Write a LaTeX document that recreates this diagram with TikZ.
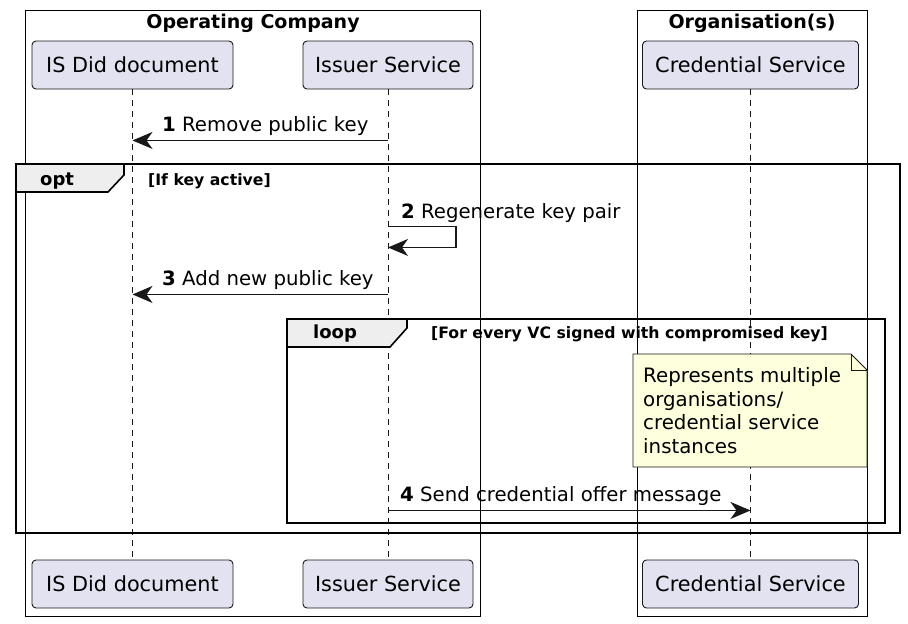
\documentclass[tikz,border=0pt]{standalone}
\usepackage{fontspec}
\setmainfont{DejaVu Sans}
\usetikzlibrary{arrows.meta,calc}
\definecolor{partfill}{HTML}{E2E2F0}
\definecolor{ink}{HTML}{181818}
\definecolor{notefill}{HTML}{FEFFDD}
\definecolor{tabfill}{HTML}{EEEEEE}
\tikzset{
  part/.style={draw=ink, fill=partfill, line width=0.9pt, rounded corners=4pt,
    minimum height=48pt, inner sep=0pt, font=\fontsize{20.8}{24}\selectfont},
  grp/.style={draw=black, line width=0.9pt},
  grptitle/.style={anchor=base, inner sep=0pt, font=\fontsize{19}{23}\selectfont\bfseries},
  life/.style={draw=ink, line width=0.9pt, dash pattern=on 6pt off 5pt},
  msg/.style={draw=ink, line width=1.4pt, -{Stealth[length=20pt,width=17pt,inset=6pt]}},
  msglabel/.style={anchor=base west, inner sep=0pt, font=\fontsize{19.7}{23}\selectfont},
  frame/.style={draw=black, line width=2.6pt},
  tab/.style={draw=black, fill=tabfill, line width=1.6pt},
  tablabel/.style={anchor=base west, inner sep=0pt, font=\fontsize{18}{22}\selectfont\bfseries},
  guard/.style={anchor=base west, inner sep=0pt, font=\fontsize{15.7}{18}\selectfont\bfseries},
  notebox/.style={draw=ink, fill=notefill, line width=0.9pt},
  notetext/.style={anchor=base west, inner sep=0pt, align=left, font=\fontsize{19.8}{23.5}\selectfont}
}
\begin{document}
\begin{tikzpicture}[x=1pt,y=-1pt]
\useasboundingbox (0,0) rectangle (908,624);
% groups
\draw[grp] (25,10) rectangle (480,616);
\draw[grp] (637,10) rectangle (867,616);
\node[grptitle] (gtitle1) at (253,28) {Operating Company};
\node[grptitle] (gtitle2) at (752,28) {Organisation(s)};
% participants
\node[part, minimum width=201pt] (didT) at (132.5,65) {IS Did document};
\node[part, minimum width=170pt] (issT) at (388,65) {Issuer Service};
\node[part, minimum width=216pt] (credT) at (750.5,65) {Credential Service};
\node[part, minimum width=201pt] (didB) at (132.5,584) {IS Did document};
\node[part, minimum width=170pt] (issB) at (388,584) {Issuer Service};
\node[part, minimum width=216pt] (credB) at (750.5,584) {Credential Service};
% lifelines
\draw[life] (didT.south) -- (didB.north);
\draw[life] (issT.south) -- (issB.north);
\draw[life] (credT.south) -- (credB.north);
% message coordinates on lifelines
\coordinate (m1a) at ($(issT.south)+(0,51)$);
\coordinate (m1b) at ($(didT.south)+(0,51)$);
\coordinate (m2a) at ($(issT.south)+(0,137)$);
\coordinate (m2r) at ($(issT.south)+(68,137)$);
\coordinate (m2s) at ($(issT.south)+(68,158)$);
\coordinate (m2b) at ($(issT.south)+(0,158)$);
\coordinate (m3a) at ($(issT.south)+(0,205)$);
\coordinate (m3b) at ($(didT.south)+(0,205)$);
\coordinate (m4a) at ($(issT.south)+(0,421)$);
\coordinate (m4b) at ($(credT.south)+(0,421)$);
% opt frame
\draw[frame] (16,164) rectangle (900,533);
\draw[tab] (16,164) -- (124,164) -- (124,175) -- (108,192) -- (16,192) -- cycle;
\draw[frame] (16,164) -- (124,164);
\node[tablabel] (optl) at (40,185) {opt};
\node[guard] (optg) at (148,185) {[If key active]};
% loop frame
\draw[frame] (287,319) rectangle (885,523);
\draw[tab] (287,319) -- (407,319) -- (407,328) -- (390,347) -- (287,347) -- cycle;
\draw[frame] (287,319) -- (407,319);
\node[tablabel] (loopl) at (313,338) {loop};
\node[guard] (loopg) at (431,338) {[For every VC signed with compromised key]};
% note
\draw[notebox] (633,354) -- (851,354) -- (867,370) -- (867,467) -- (633,467) -- cycle;
\draw[notebox, fill=none] (851,354) -- (851,370) -- (867,370);
\node[notetext] (note) at (643,453) {Represents multiple\\organisations/\\credential service\\instances};
% messages
\draw[msg] (m1a) -- (m1b);
\node[msglabel] (l1) at (162,131) {\textbf{1} Remove public key};
\draw[msg] (m2a) -- (m2r) -- (m2s) -- (m2b);
\node[msglabel] (l2) at (401,218) {\textbf{2} Regenerate key pair};
\draw[msg] (m3a) -- (m3b);
\node[msglabel] (l3) at (162,285.5) {\textbf{3} Add new public key};
\draw[msg] (m4a) -- (m4b);
\node[msglabel] (l4) at (400,501.5) {\textbf{4} Send credential offer message};
\end{tikzpicture}
\end{document}
